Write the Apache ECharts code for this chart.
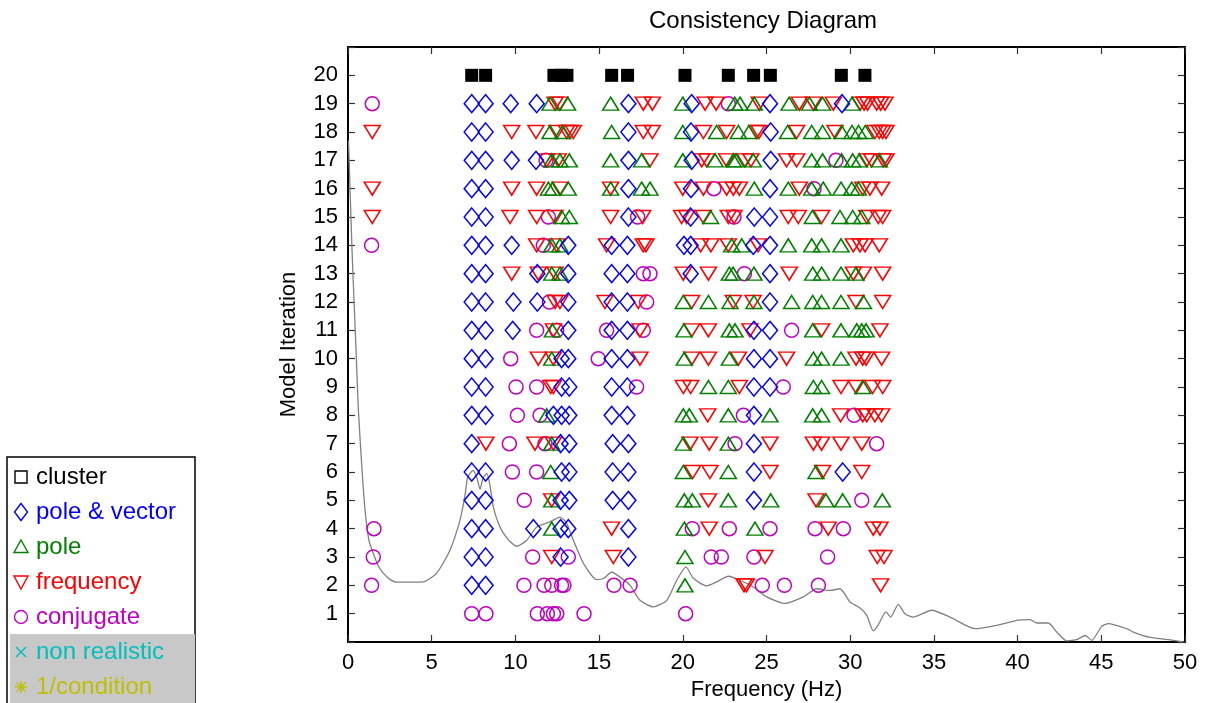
<!DOCTYPE html>
<html>
<head>
<meta charset="utf-8">
<script src="https://cdn.jsdelivr.net/npm/echarts@6/dist/echarts.min.js"></script>
<style>html,body{margin:0;padding:0;background:#fff;}#c{width:1208px;height:703px;}</style>
</head>
<body>
<div id="c"></div>
<script>
// ---- data (frequency in Hz per model iteration) ----
const xTicks = [0, 5, 10, 15, 20, 25, 30, 35, 40, 45, 50];
const yTicks = [1,2,3,4,5,6,7,8,9,10,11,12,13,14,15,16,17,18,19,20];

const cluster = [
  [20, [7.39, 8.22, 12.3, 12.72, 13.08, 15.75, 16.7, 20.13, 22.72, 24.23, 25.23, 29.47, 30.88]]
];

const poleVector = [
  [19, [7.39, 8.22, 9.72, 11.27, 16.75, 20.53, 25.21, 29.51]],
  [18, [7.39, 8.22, 16.75, 20.49, 25.25]],
  [17, [7.39, 8.22, 9.78, 11.23, 16.75, 20.53, 25.25]],
  [16, [7.39, 8.22, 16.75, 20.49, 25.21]],
  [15, [7.39, 8.22, 16.75, 20.47, 24.27, 25.21]],
  [14, [7.39, 8.22, 9.78, 13.16, 15.75, 16.69, 20.07, 20.47, 24.21, 25.21]],
  [13, [7.39, 8.22, 11.31, 13.16, 15.75, 16.69, 20.47, 25.21]],
  [12, [7.39, 8.22, 9.88, 11.31, 13.16, 15.75, 16.69, 25.21]],
  [11, [7.39, 8.22, 9.84, 13.16, 15.75, 16.69, 24.25, 25.21]],
  [10, [7.39, 8.22, 12.76, 13.16, 15.75, 16.69, 24.25, 25.21]],
  [9,  [7.39, 8.22, 12.76, 13.22, 15.75, 16.69, 24.25, 25.21]],
  [8,  [7.39, 8.22, 12.27, 12.76, 13.22, 15.75, 16.69, 24.25]],
  [7,  [7.39, 12.7, 13.22, 15.81, 16.75, 24.25]],
  [6,  [7.39, 8.22, 12.76, 13.22, 15.81, 16.75, 24.25, 29.55]],
  [5,  [7.39, 8.22, 12.7, 13.22, 15.81, 16.75, 24.25]],
  [4,  [7.39, 8.22, 11.07, 12.7, 13.16, 16.75]],
  [3,  [7.39, 8.22, 12.7, 16.75]],
  [2,  [7.39, 8.22]]
];

const pole = [
  [19, [12.07, 13.12, 15.69, 20.0, 23.1, 23.42, 24.27, 26.35, 27.56, 28.35, 30.11]],
  [18, [12.07, 12.82, 15.75, 20.0, 22.02, 23.32, 23.95, 26.26, 27.7, 28.35, 29.49, 30.11, 30.5, 30.9]],
  [17, [12.17, 12.66, 13.22, 15.69, 17.54, 20.0, 21.93, 23.02, 23.18, 24.21, 27.7, 28.35, 29.49, 30.15, 30.55, 31.74]],
  [16, [11.97, 12.23, 13.16, 15.69, 17.54, 18.04, 24.27, 26.3, 27.7, 28.39, 29.45, 30.09, 30.49]],
  [15, [12.76, 13.22, 21.66, 27.74, 29.39, 30.15, 30.69]],
  [14, [12.17, 12.66, 22.92, 23.52, 26.3, 27.7, 28.29, 29.45]],
  [13, [12.17, 12.66, 22.78, 23.0, 24.25, 27.76, 28.29, 29.45, 30.35]],
  [12, [20.03, 21.53, 22.82, 24.25, 26.5, 27.76, 28.29, 29.45, 30.79]],
  [11, [12.21, 20.07, 22.78, 23.12, 27.76, 29.45, 30.39, 30.69, 30.95]],
  [10, [12.17, 20.09, 22.78, 27.8, 28.29, 29.45]],
  [9,  [21.53, 22.72, 27.8, 28.29, 30.75]],
  [8,  [11.87, 20.03, 20.39, 22.72, 25.21, 27.76, 28.29]],
  [7,  [12.17, 20.03, 22.72]],
  [6,  [12.11, 20.03, 22.72, 27.96]],
  [5,  [12.17, 20.09, 20.57, 22.72, 25.25, 28.55, 29.55, 31.92]],
  [4,  [12.17, 20.09, 24.31]],
  [3,  [20.13]],
  [2,  [20.13]]
];

const frequency = [
  [19, [12.37, 12.66, 17.64, 18.18, 21.33, 21.99, 24.57, 26.96, 27.8, 28.99, 30.59, 30.83, 31.04, 31.58, 31.82, 32.08]],
  [18, [1.45, 9.78, 11.23, 12.47, 13.06, 13.26, 13.46, 17.64, 18.18, 21.23, 22.62, 24.41, 24.55, 26.8, 29.09, 31.48, 31.74, 31.94, 32.14]],
  [17, [11.87, 12.56, 18.04, 21.13, 21.43, 22.62, 23.71, 24.07, 26.2, 26.8, 30.99, 31.28, 31.98, 32.14]],
  [16, [1.45, 9.78, 11.27, 12.66, 15.69, 20.0, 21.23, 22.62, 23.02, 23.38, 26.96, 30.75, 31.18, 31.88]],
  [15, [1.45, 9.68, 11.27, 12.37, 15.69, 17.6, 19.93, 20.23, 21.23, 22.72, 23.06, 26.3, 26.9, 28.29, 30.99, 31.68, 31.94]],
  [14, [11.27, 12.47, 15.45, 17.64, 17.8, 21.07, 21.68, 22.72, 24.5, 30.19, 30.59, 30.89, 31.74]],
  [13, [9.78, 11.37, 12.37, 20.03, 21.53, 26.36, 30.19, 30.79, 31.94]],
  [12, [12.37, 12.66, 15.35, 17.34, 20.53, 23.02, 24.2, 30.35, 31.94]],
  [11, [12.27, 17.44, 20.53, 21.53, 24.01, 28.29, 31.78]],
  [10, [11.37, 12.27, 17.44, 20.53, 21.53, 23.32, 26.2, 30.35, 30.75, 30.95, 31.88]],
  [9,  [12.11, 12.27, 20.03, 20.47, 23.38, 29.45, 30.35, 31.34, 31.94]],
  [8,  [21.49, 29.43, 30.75, 30.99, 31.48, 31.88]],
  [7,  [8.24, 11.17, 12.27, 20.43, 21.58, 25.21, 27.8, 28.29, 29.45, 30.69]],
  [6,  [20.59, 21.62, 25.21, 28.35, 30.69]],
  [5,  [12.17, 21.53, 27.96]],
  [4,  [15.75, 21.58, 28.69, 31.38, 31.78]],
  [3,  [12.17, 15.85, 24.91, 31.62, 32.02]],
  [2,  [23.66, 23.8, 31.82]]
];

const conjugate = [
  [19, [1.45, 22.72]],
  [17, [11.83, 29.15]],
  [16, [21.86, 27.84]],
  [15, [11.97, 17.3, 23.06]],
  [14, [1.41, 11.67]],
  [13, [17.64, 18.04, 23.68]],
  [12, [12.03, 17.84]],
  [11, [11.27, 12.47, 15.45, 17.64, 26.5]],
  [10, [9.72, 14.95]],
  [9,  [10.04, 11.27, 17.24, 26.0]],
  [8,  [10.12, 11.47, 23.62, 30.23]],
  [7,  [9.64, 11.77, 23.12, 31.58]],
  [6,  [9.82, 11.27]],
  [5,  [10.53, 30.69]],
  [4,  [1.55, 20.57, 22.78, 25.21, 27.9, 29.59]],
  [3,  [1.51, 11.03, 13.16, 21.7, 22.3, 24.25, 28.65]],
  [2,  [1.41, 10.51, 11.71, 12.17, 12.76, 12.9, 15.89, 16.85, 24.75, 26.07, 28.1]],
  [1,  [7.39, 8.24, 11.31, 11.91, 12.27, 12.47, 14.1, 20.17]]
];

// spectrum curve [Hz, scaled level]
const spectrum = [
  [0.03,17.7],[0.24,13.83],[0.48,10.3],[0.62,8.18],[0.84,6.06],[1.02,4.65],[1.25,3.59],[1.51,3.13],
  [1.79,2.71],[2.11,2.43],[2.51,2.21],[2.91,2.11],[3.7,2.11],[4.5,2.12],[5.3,2.43],[6.09,3.24],
  [6.69,4.3],[6.99,5.18],[7.15,5.82],[7.47,6.06],[7.71,5.78],[7.89,5.39],[8.06,5.78],[8.29,5.95],
  [8.48,5.53],[8.68,4.77],[8.96,4.23],[9.28,3.84],[9.68,3.55],[10.08,3.38],[10.68,3.59],[11.27,4.06],
  [12.07,4.24],[12.66,4.41],[13.06,4.19],[13.46,3.59],[14.06,2.78],[14.86,2.2],[15.29,2.25],[15.75,2.47],
  [16.25,2.29],[16.85,2.0],[17.44,1.47],[18.24,1.24],[19.04,1.47],[19.64,2.18],[20.19,2.65],[20.63,2.25],
  [21.43,1.98],[22.02,2.12],[22.72,2.32],[23.42,2.18],[24.21,1.94],[25.01,1.59],[26.11,1.36],[27.2,1.59],
  [28.0,1.88],[28.79,1.82],[29.39,1.88],[29.99,1.41],[30.59,1.2],[30.99,0.94],[31.38,0.39],[31.66,0.59],
  [32.14,1.06],[32.42,0.88],[32.87,1.33],[33.27,1.0],[33.77,0.88],[34.87,1.12],[35.96,0.88],[37.46,0.47],
  [38.75,0.59],[40.04,0.77],[40.74,0.79],[41.14,0.67],[41.83,0.67],[42.34,0.35],[42.93,0.04],[43.53,0.08],
  [44.03,0.23],[44.43,0.06],[45.02,0.55],[45.42,0.65],[46.52,0.47],[46.91,0.35],[47.91,0.16],[49.3,0.06],[49.9,0.0]
];

// ---- build ----
function flat(rows) {
  const out = [];
  rows.forEach(r => r[1].forEach(f => out.push([f, r[0]])));
  return out;
}
const FONT = '"Liberation Sans", Arial, sans-serif';
const C = {
  black: '#000000', blue: '#0000ff', green: '#008000', red: '#ff0000',
  mag: '#bf00bf', cyan: '#00bfbf', olive: '#bfbf00'
};
function hollow(color) {
  return { color: 'rgba(0,0,0,0)', borderColor: color, borderWidth: 1.5, opacity: 1 };
}

const chart = echarts.init(document.getElementById('c'), null, { renderer: 'canvas' });

const axisCommon = {
  type: 'value',
  axisLine: { show: true, onZero: false, lineStyle: { color: '#000', width: 2 } },
  axisTick: { show: true, inside: true, length: 7, lineStyle: { color: '#333', width: 1.2 } },
  splitLine: { show: false }
};

const legendItems = [
  { label: 'cluster', color: C.black, shape: 'square' },
  { label: 'pole & vector', color: C.blue, shape: 'diamond' },
  { label: 'pole', color: C.green, shape: 'up' },
  { label: 'frequency', color: C.red, shape: 'down' },
  { label: 'conjugate', color: C.mag, shape: 'circle' },
  { label: 'non realistic', color: C.cyan, shape: 'cross' },
  { label: '1/condition', color: C.olive, shape: 'star' }
];

const graphics = [
  { type: 'text', left: 766 - 117, top: 9, style: { text: 'Consistency Diagram', font: '24px ' + FONT, fill: '#000' } },
  { type: 'rect', shape: { x: 7, y: 457, width: 188, height: 260 }, style: { fill: '#fff', stroke: '#000', lineWidth: 1.5 } },
  { type: 'rect', shape: { x: 10, y: 634, width: 185, height: 80 }, style: { fill: '#c8c8c8' } }
];
legendItems.forEach((it, i) => {
  const cy = 477 + i * 35;
  const cx = 21;
  let sh;
  const st = { fill: 'none', stroke: it.color, lineWidth: 1.4 };
  if (it.shape === 'square') sh = { type: 'rect', shape: { x: cx - 6, y: cy - 6, width: 12, height: 12 }, style: st };
  else if (it.shape === 'diamond') sh = { type: 'polygon', shape: { points: [[cx, cy - 8.5], [cx + 6.5, cy], [cx, cy + 8.5], [cx - 6.5, cy]] }, style: st };
  else if (it.shape === 'up') sh = { type: 'polygon', shape: { points: [[cx, cy - 7], [cx + 7, cy + 5.5], [cx - 7, cy + 5.5]] }, style: st };
  else if (it.shape === 'down') sh = { type: 'polygon', shape: { points: [[cx - 7, cy - 6], [cx + 7, cy - 6], [cx, cy + 7]] }, style: st };
  else if (it.shape === 'circle') sh = { type: 'circle', shape: { cx: cx, cy: cy, r: 6.5 }, style: st };
  else if (it.shape === 'cross') sh = { type: 'group', children: [
      { type: 'line', shape: { x1: cx - 5, y1: cy - 5, x2: cx + 5, y2: cy + 5 }, style: st },
      { type: 'line', shape: { x1: cx - 5, y1: cy + 5, x2: cx + 5, y2: cy - 5 }, style: st } ] };
  else sh = { type: 'group', children: [
      { type: 'line', shape: { x1: cx - 6, y1: cy, x2: cx + 6, y2: cy }, style: st },
      { type: 'line', shape: { x1: cx, y1: cy - 6, x2: cx, y2: cy + 6 }, style: st },
      { type: 'line', shape: { x1: cx - 4.5, y1: cy - 4.5, x2: cx + 4.5, y2: cy + 4.5 }, style: st },
      { type: 'line', shape: { x1: cx - 4.5, y1: cy + 4.5, x2: cx + 4.5, y2: cy - 4.5 }, style: st } ] };
  graphics.push(sh);
  graphics.push({ type: 'text', x: 36, y: cy, style: { text: it.label, font: '24px ' + FONT, fill: it.color, textVerticalAlign: 'middle', verticalAlign: 'middle' } });
});

const option = {
  animation: false,
  backgroundColor: '#fff',
  grid: { left: 348, right: 23, top: 47, bottom: 61, containLabel: false, outerBoundsMode: 'none' },
  xAxis: [
    Object.assign({}, axisCommon, {
      min: 0, max: 50, interval: 5, position: 'bottom',
      axisLabel: { margin: 10, fontSize: 22, color: '#000', fontFamily: FONT },
      name: 'Frequency (Hz)', nameLocation: 'middle', nameGap: 37,
      nameTextStyle: { fontSize: 22, color: '#000', fontFamily: FONT }
    }),
    Object.assign({}, axisCommon, { min: 0, max: 50, interval: 5, position: 'top', axisLabel: { show: false } })
  ],
  yAxis: [
    Object.assign({}, axisCommon, {
      min: 0, max: 21, interval: 1, position: 'left',
      axisLabel: { margin: 10, fontSize: 22, color: '#000', fontFamily: FONT,
        formatter: v => (yTicks.indexOf(v) >= 0 ? String(v) : '') },
      name: 'Model Iteration', nameLocation: 'middle', nameGap: 48,
      nameTextStyle: { fontSize: 22, color: '#000', fontFamily: FONT }
    }),
    Object.assign({}, axisCommon, { min: 0, max: 21, interval: 1, position: 'right', axisLabel: { show: false } })
  ],
  graphic: graphics,
  series: [
    { type: 'line', data: spectrum, showSymbol: false, symbol: 'none', smooth: 0.2,
      lineStyle: { color: '#808080', width: 1.3 }, z: 1, silent: true },
    { name: 'conjugate', type: 'scatter', data: flat(conjugate), symbol: 'circle', symbolSize: 14,
      itemStyle: hollow(C.mag), z: 2 },
    { name: 'frequency', type: 'scatter', data: flat(frequency), symbol: 'triangle', symbolRotate: 180,
      symbolSize: [16, 13], itemStyle: hollow(C.red), z: 3 },
    { name: 'pole', type: 'scatter', data: flat(pole), symbol: 'triangle', symbolSize: [16, 13],
      itemStyle: hollow(C.green), z: 4 },
    { name: 'pole & vector', type: 'scatter', data: flat(poleVector), symbol: 'diamond', symbolSize: [15, 18],
      itemStyle: hollow(C.blue), z: 5 },
    { name: 'cluster', type: 'scatter', data: flat(cluster), symbol: 'rect', symbolSize: 13,
      itemStyle: { color: '#000', opacity: 1 }, z: 6 }
  ]
};
chart.setOption(option);
</script>
</body>
</html>
